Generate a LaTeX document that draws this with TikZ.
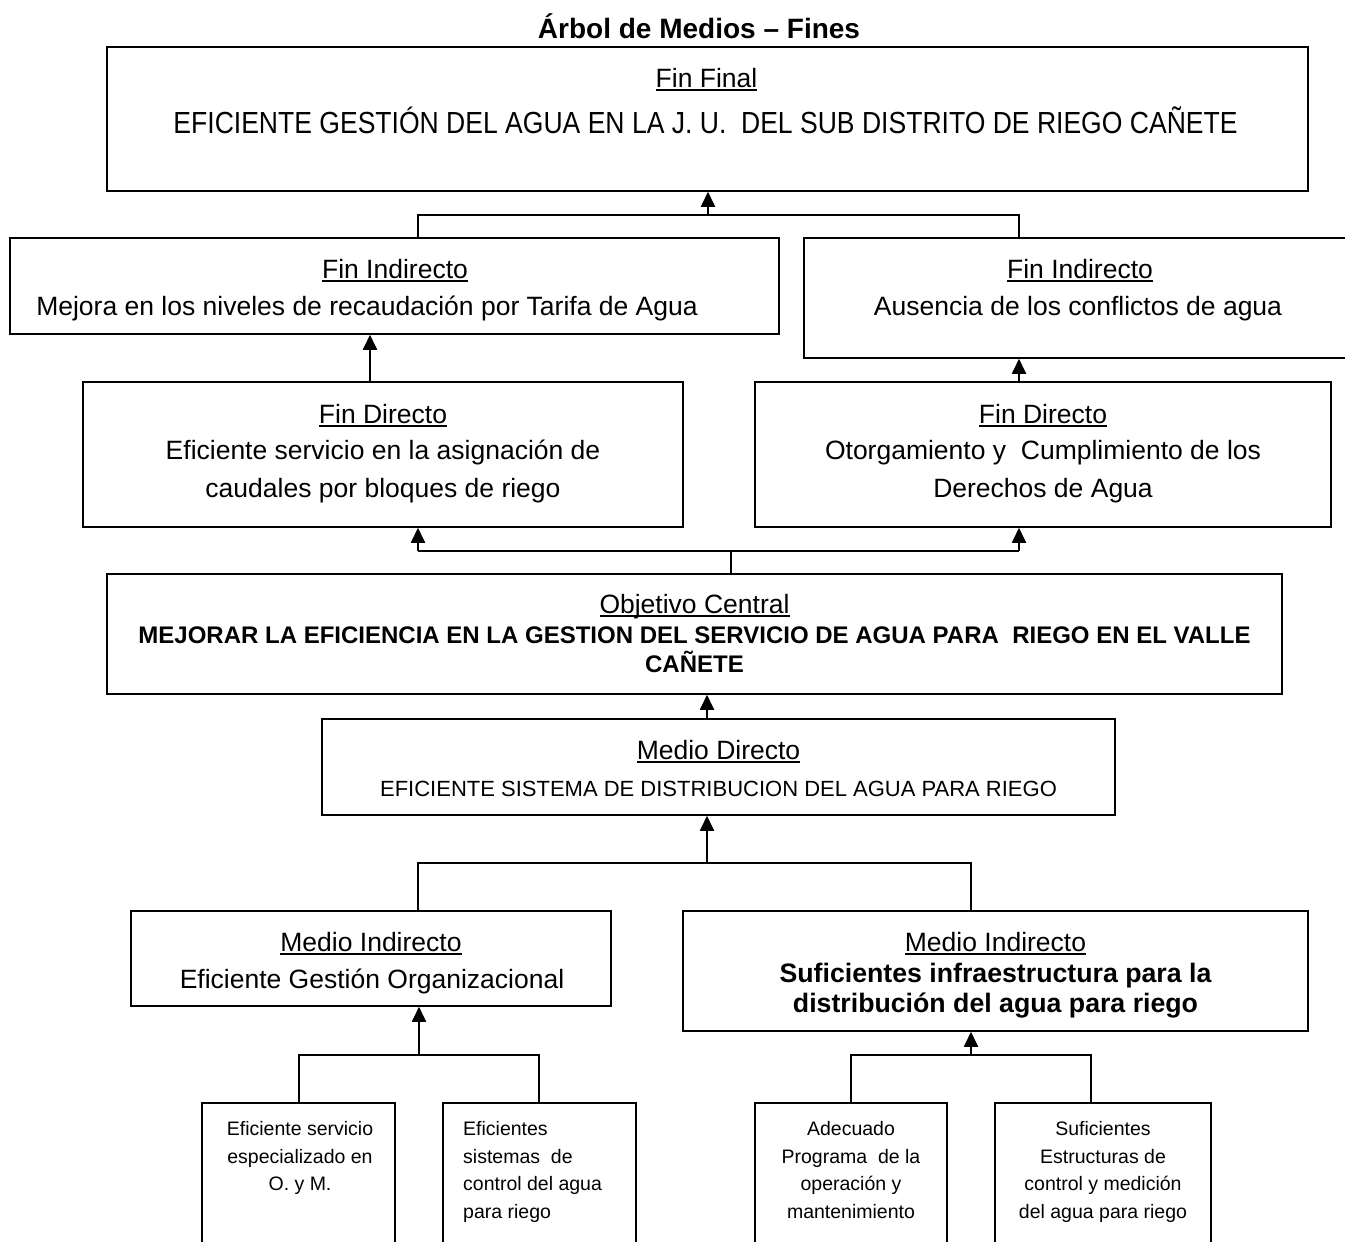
\documentclass[tikz,border=0pt]{standalone}
\usepackage{fontspec}
\setmainfont{Liberation Sans}
\newfontfamily\narrowfont[FakeStretch=0.87]{Liberation Sans}
\usetikzlibrary{arrows.meta}
\newcommand{\hdr}[1]{\setbox0=\hbox{#1}\rlap{\rule[-4pt]{\wd0}{2pt}}\box0}
\frenchspacing
\begin{document}
\begin{tikzpicture}[x=1pt,y=-1pt,
  box/.style={draw, line width=1.5pt, inner sep=0pt},
  txt/.style={anchor=base, inner sep=0pt},
  big/.style={txt, font=\fontsize{26.5}{30}\selectfont},
  huge/.style={txt, font=\narrowfont\fontsize{30.5}{34}\selectfont},
  mid/.style={txt, font=\fontsize{22}{26}\selectfont},
  sml/.style={txt, font=\fontsize{19.5}{23}\selectfont},
  smll/.style={sml, anchor=base west},
  bld/.style={txt, font=\bfseries\fontsize{24}{28}\selectfont},
  bldb/.style={txt, font=\bfseries\fontsize{26.7}{30}\selectfont},
  ttl/.style={txt, font=\bfseries\fontsize{28}{32}\selectfont},
  ln/.style={line width=1.5pt},
  lnthin/.style={line width=1.2pt},
  arr/.style={line width=1.8pt, -{Triangle[width=14pt,length=15pt]}}]
\useasboundingbox (0,0) rectangle (1345,1242);
\fill[white] (0,0) rectangle (1345,1242);

% boxes
\node[box, minimum width=1201pt, minimum height=144pt] (ff) at (707.5,119) {};
\node[box, minimum width=769pt, minimum height=96pt] (fil) at (394.5,286) {};
\node[box, minimum width=552pt, minimum height=120pt] (fir) at (1080,298) {};
\node[box, minimum width=600pt, minimum height=145pt] (fdl) at (383,454.5) {};
\node[box, minimum width=576pt, minimum height=145pt] (fdr) at (1043,454.5) {};
\node[box, minimum width=1175pt, minimum height=120pt] (oc) at (694.5,634) {};
\node[box, minimum width=793pt, minimum height=96pt] (md) at (718.5,767) {};
\node[box, minimum width=480pt, minimum height=95pt] (mil) at (371,958.5) {};
\node[box, minimum width=625pt, minimum height=120pt] (mir) at (995.5,971) {};
\node[box, minimum width=193pt, minimum height=167pt] (s1) at (298.5,1186.5) {};
\node[box, minimum width=193pt, minimum height=167pt] (s2) at (539.5,1186.5) {};
\node[box, minimum width=192pt, minimum height=167pt] (s3) at (851,1186.5) {};
\node[box, minimum width=216pt, minimum height=167pt] (s4) at (1103,1186.5) {};

% texts
\node[ttl] (title) at (699,38) {Árbol de Medios – Fines};
\node[big] (t1) at (706.5,87) {\hdr{Fin Final}};
\node[huge] (t2) at (705.5,133) {EFICIENTE GESTIÓN DEL AGUA EN LA J. U.~ DEL SUB DISTRITO DE RIEGO CAÑETE};
\node[big] (t3) at (395,278) {\hdr{Fin Indirecto}};
\node[big] (t4) at (367,315) {Mejora en los niveles de recaudación por Tarifa de Agua};
\node[big] (t5) at (1080,278) {\hdr{Fin Indirecto}};
\node[big] (t6) at (1078,315) {Ausencia de los conflictos de agua};
\node[big] (t7) at (383,423) {\hdr{Fin Directo}};
\node[big] (t8) at (383,459) {Eficiente servicio en la asignación de};
\node[big] (t9) at (383,497) {caudales por bloques de riego};
\node[big] (t10) at (1043,423) {\hdr{Fin Directo}};
\node[big] (t11) at (1043,459) {Otorgamiento y~ Cumplimiento de los};
\node[big] (t12) at (1043,497) {Derechos de Agua};
\node[big] (t13) at (694.5,613) {\hdr{Objetivo Central}};
\node[bld] (t14) at (694.5,643) {MEJORAR LA EFICIENCIA EN LA GESTION DEL SERVICIO DE AGUA PARA~ RIEGO EN EL VALLE};
\node[bld] (t15) at (694.5,672) {CAÑETE};
\node[big] (t16) at (718.5,759) {\hdr{Medio Directo}};
\node[mid] (t17) at (718.5,796) {EFICIENTE SISTEMA DE DISTRIBUCION DEL AGUA PARA RIEGO};
\node[big] (t18) at (371,951) {\hdr{Medio Indirecto}};
\node[big] (t19) at (372,988) {Eficiente Gestión Organizacional};
\node[big] (t20) at (995.5,951) {\hdr{Medio Indirecto}};
\node[bldb] (t21) at (995.5,982) {Suficientes infraestructura para la};
\node[bldb] (t22) at (995.5,1012) {distribución del agua para riego};

\node[sml] (u1) at (300,1135) {Eficiente servicio};
\node[sml] (u2) at (300,1163) {especializado en};
\node[sml] (u3) at (300,1190) {O. y M.};
\node[smll] (v1) at (463,1135) {Eficientes};
\node[smll] (v2) at (463,1163) {sistemas~ de};
\node[smll] (v3) at (463,1190) {control del agua};
\node[smll] (v4) at (463,1218) {para riego};
\node[sml] (w1) at (851,1135) {Adecuado};
\node[sml] (w2) at (851,1163) {Programa~ de la};
\node[sml] (w3) at (851,1190) {operación y};
\node[sml] (w4) at (851,1218) {mantenimiento};
\node[sml] (z1) at (1103,1135) {Suficientes};
\node[sml] (z2) at (1103,1163) {Estructuras de};
\node[sml] (z3) at (1103,1190) {control y medición};
\node[sml] (z4) at (1103,1218) {del agua para riego};

% connectors
\coordinate (j1) at (708,215);
\coordinate (a1) at (418,215);
\coordinate (a2) at (1019,215);
\draw[lnthin] (fil.north -| a1) -- (a1) -- (a2) -- (fir.north -| a2);
\draw[arr] (j1) -- (j1 |- ff.south);

\coordinate (b1) at (370,382);
\draw[arr] (fdl.north -| b1) -- (b1 |- fil.south);
\coordinate (b2) at (1019,382);
\draw[arr] (fdr.north -| b2) -- (b2 |- fir.south);

\coordinate (c0) at (731,551);
\coordinate (c1) at (418,551);
\coordinate (c2) at (1019,551);
\draw[lnthin] (oc.north -| c0) -- (c0);
\draw[ln] (c1) -- (c2);
\draw[arr] (c1) -- (c1 |- fdl.south);
\draw[arr] (c2) -- (c2 |- fdr.south);

\coordinate (d0) at (707,719);
\draw[arr] (md.north -| d0) -- (d0 |- oc.south);

\coordinate (e0) at (707,863);
\coordinate (e1) at (418,863);
\coordinate (e2) at (971,863);
\draw[arr] (e0) -- (e0 |- md.south);
\draw[ln] (mil.north -| e1) -- (e1) -- (e2) -- (mir.north -| e2);

\coordinate (f0) at (419,1055);
\coordinate (f1) at (299,1055);
\coordinate (f2) at (539,1055);
\draw[arr] (f0) -- (f0 |- mil.south);
\draw[ln] (s1.north -| f1) -- (f1) -- (f2) -- (s2.north -| f2);

\coordinate (g0) at (971,1055);
\coordinate (g1) at (851,1055);
\coordinate (g2) at (1091,1055);
\draw[arr] (g0) -- (g0 |- mir.south);
\draw[ln] (s3.north -| g1) -- (g1) -- (g2) -- (s4.north -| g2);
\end{tikzpicture}
\end{document}
